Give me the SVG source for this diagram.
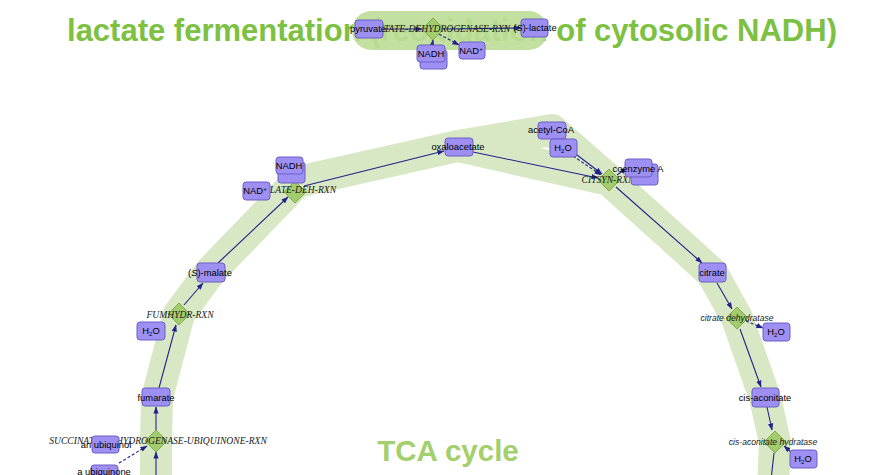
<svg xmlns="http://www.w3.org/2000/svg" width="885" height="475" viewBox="0 0 885 475">
  <defs>
    <marker id="arr" viewBox="0 0 8 6" refX="7.5" refY="3" markerWidth="7" markerHeight="5.5" markerUnits="userSpaceOnUse" orient="auto">
      <path d="M0,0 L8,3 L0,6 z" fill="#22228c"/>
    </marker>
    <style>
      .band{fill:none;stroke:#d9e8c4;stroke-width:32;stroke-linecap:round;stroke-linejoin:round}
      .title{font-family:"Liberation Sans",Arial,sans-serif;font-weight:bold;text-anchor:middle}
      .e{fill:none;stroke:#22228c;stroke-width:1.1;marker-end:url(#arr)}
      .d{stroke-dasharray:3,2}
      .box{fill:#9e90f2;stroke:#6b5fc7;stroke-width:1}
      .rx{fill:#a3cc6e;stroke:#82aa4e;stroke-width:1}
      .lbl{font-family:"Liberation Sans",Arial,sans-serif;font-size:9.4px;fill:#000;text-anchor:middle}
      .rl{font-family:"Liberation Serif","Times New Roman",serif;font-style:italic;font-size:9.6px;fill:#1a1a1a;text-anchor:middle}
      .rs{font-family:"Liberation Sans",Arial,sans-serif;font-style:italic;font-size:8.6px;fill:#1a1a1a;text-anchor:middle}
      .sub{font-size:6px}
    </style>
  </defs>
  <rect width="885" height="475" fill="#ffffff"/>

  <!-- pathway highlight bands -->
  <g id="bands">
    <polyline class="band" points="156,490 156,441 157,398 179,314 210,272 297,182 458,146 609,180 712,273 737,318 765,398 775,442 773,490"/>
    <polyline class="band" points="458,146 552,130 609,180"/>
  </g>

  <text class="title" x="452" y="41" font-size="31" fill="#7cc142">lactate fermentation (reoxidation of cytosolic NADH)</text>
  <rect id="lactate-band" x="352" y="11" width="196" height="39" rx="19.5" fill="#bcdd97" opacity="0.9"/>
  <text class="title" x="448" y="461" font-size="29.5" fill="#a3cf6c">TCA cycle</text>

  <!-- connectors -->
  <g id="connectors">
    <line class="e" x1="383" y1="29" x2="422" y2="29"/>
    <line class="e" x1="444" y1="29" x2="521" y2="28"/>
    <line class="e" x1="432" y1="46" x2="433" y2="40"/>
    <line class="e d" x1="439" y1="34" x2="459" y2="45"/>
    <line class="e" x1="218" y1="263" x2="288" y2="197"/>
    <line class="e" x1="304" y1="186" x2="444" y2="151"/>
    <line class="e" x1="473" y1="152" x2="598" y2="178"/>
    <line class="e" x1="556" y1="139" x2="602" y2="174"/>
    <line class="e d" x1="573" y1="156" x2="601" y2="175"/>
    <line class="e" x1="617" y1="175" x2="627" y2="168"/>
    <line class="e" x1="616" y1="187" x2="702" y2="263"/>
    <line class="e" x1="717" y1="283" x2="732" y2="309"/>
    <line class="e d" x1="746" y1="321" x2="763" y2="328"/>
    <line class="e" x1="740" y1="329" x2="761" y2="387"/>
    <line class="e" x1="767" y1="407" x2="772" y2="430"/>
    <line class="e d" x1="791" y1="452" x2="784" y2="446"/>
    <line fill="none" stroke="#22228c" stroke-width="1.1" x1="774" y1="453" x2="771" y2="480"/>
    <line class="e" x1="156" y1="480" x2="156" y2="452"/>
    <line class="e" x1="156" y1="430" x2="156" y2="407"/>
    <line class="e d" x1="119" y1="463" x2="147" y2="446"/>
    <line class="e" x1="159" y1="388" x2="176" y2="325"/>
    <line class="e" x1="184" y1="305" x2="203" y2="283"/>
  </g>

  <!-- reactions -->
  <g id="L-LACTATE-DEHYDROGENASE-RXN">
    <polygon class="rx" points="433,18 444,29 433,40 422,29"/>
    <text class="rl" x="434" y="32" font-size="10">L-LACTATE-DEHYDROGENASE-RXN</text>
  </g>
  <g id="MALATE-DEH-RXN">
    <polygon class="rx" points="295,181 306,192 295,203 284,192"/>
    <text class="rl" x="296" y="193">MALATE-DEH-RXN</text>
  </g>
  <g id="CITSYN-RXN">
    <polygon class="rx" points="609,169 620,180 609,191 598,180"/>
    <text class="rl" x="608" y="183">CITSYN-RXN</text>
  </g>
  <g id="citrate-dehydratase">
    <polygon class="rx" points="737,307 748,318 737,329 726,318"/>
    <text class="rs" x="737" y="321">citrate dehydratase</text>
  </g>
  <g id="cis-aconitate-hydratase">
    <polygon class="rx" points="775,431 786,442 775,453 764,442"/>
    <text class="rs" x="773" y="445">cis-aconitate hydratase</text>
  </g>
  <g id="FUMHYDR-RXN">
    <polygon class="rx" points="179,303 190,314 179,325 168,314"/>
    <text class="rl" x="180" y="318">FUMHYDR-RXN</text>
  </g>
  <g id="SUCCINATE-DEHYDROGENASE-UBIQUINONE-RXN">
    <polygon class="rx" points="156,430 167,441 156,452 145,441"/>
    <text class="rl" x="158" y="444">SUCCINATE-DEHYDROGENASE-UBIQUINONE-RXN</text>
  </g>

  <!-- metabolites -->
  <g id="pyruvate">
    <rect class="box" x="355" y="20" width="28" height="18" rx="3"/>
    <text class="lbl" x="368" y="32">pyruvate</text>
  </g>
  <g id="S-lactate">
    <rect class="box" x="521" y="19" width="27" height="18" rx="3"/>
    <text class="lbl" x="535" y="31">(<tspan font-style="italic">S</tspan>)-lactate</text>
  </g>
  <g id="NADH-cyt">
    <rect class="box" x="420" y="50" width="27" height="19" rx="3"/>
    <rect class="box" x="417" y="45" width="28" height="17" rx="3"/>
    <text class="lbl" x="431" y="57">NADH</text>
  </g>
  <g id="NAD-cyt">
    <rect class="box" x="459" y="42" width="26" height="17" rx="3"/>
    <text class="lbl" x="471" y="54">NAD<tspan class="sub" dy="-3">+</tspan></text>
  </g>
  <g id="oxaloacetate">
    <rect class="box" x="445" y="138" width="28" height="18" rx="3"/>
    <text class="lbl" x="458" y="150">oxaloacetate</text>
  </g>
  <g id="acetyl-CoA">
    <rect class="box" x="538" y="122" width="28" height="17" rx="3"/>
    <text class="lbl" x="551" y="133">acetyl-CoA</text>
  </g>
  <g id="H2O-1">
    <rect class="box" x="550" y="139" width="27" height="18" rx="3"/>
    <text class="lbl" x="563" y="151">H<tspan class="sub" dy="2">2</tspan><tspan dy="-2">O</tspan></text>
  </g>
  <g id="coenzyme-A">
    <rect class="box" x="631" y="164" width="27" height="21" rx="3"/>
    <rect class="box" x="625" y="159" width="27" height="18" rx="3"/>
    <text class="lbl" x="638" y="172">coenzyme A</text>
  </g>
  <g id="citrate">
    <rect class="box" x="699" y="263" width="27" height="19" rx="3"/>
    <text class="lbl" x="712" y="276">citrate</text>
  </g>
  <g id="H2O-2">
    <rect class="box" x="763" y="323" width="27" height="18" rx="3"/>
    <text class="lbl" x="776" y="335">H<tspan class="sub" dy="2">2</tspan><tspan dy="-2">O</tspan></text>
  </g>
  <g id="cis-aconitate">
    <rect class="box" x="752" y="388" width="27" height="19" rx="3"/>
    <text class="lbl" x="765" y="401">cis-aconitate</text>
  </g>
  <g id="H2O-3">
    <rect class="box" x="790" y="450" width="27" height="18" rx="3"/>
    <text class="lbl" x="803" y="462">H<tspan class="sub" dy="2">2</tspan><tspan dy="-2">O</tspan></text>
  </g>
  <g id="S-malate">
    <rect class="box" x="197" y="263" width="28" height="19" rx="3"/>
    <text class="lbl" x="210" y="276">(<tspan font-style="italic">S</tspan>)-malate</text>
  </g>
  <g id="H2O-4">
    <rect class="box" x="137" y="322" width="28" height="18" rx="3"/>
    <text class="lbl" x="151" y="334">H<tspan class="sub" dy="2">2</tspan><tspan dy="-2">O</tspan></text>
  </g>
  <g id="fumarate">
    <rect class="box" x="142" y="388" width="28" height="18" rx="3"/>
    <text class="lbl" x="156" y="401">fumarate</text>
  </g>
  <g id="NADH-mito">
    <rect class="box" x="278" y="162" width="27" height="21" rx="3"/>
    <rect class="box" x="276" y="157" width="27" height="17" rx="3"/>
    <text class="lbl" x="289" y="169">NADH</text>
  </g>
  <g id="NAD-mito">
    <rect class="box" x="243" y="182" width="27" height="18" rx="3"/>
    <text class="lbl" x="255" y="194">NAD<tspan class="sub" dy="-3">+</tspan></text>
  </g>
  <g id="an-ubiquinol">
    <rect class="box" x="92" y="436" width="27" height="17" rx="3"/>
    <text class="lbl" x="106" y="448">an ubiquinol</text>
  </g>
  <g id="a-ubiquinone">
    <rect class="box" x="91" y="465" width="27" height="17" rx="3"/>
    <text class="lbl" x="104" y="475">a ubiquinone</text>
  </g>
</svg>
